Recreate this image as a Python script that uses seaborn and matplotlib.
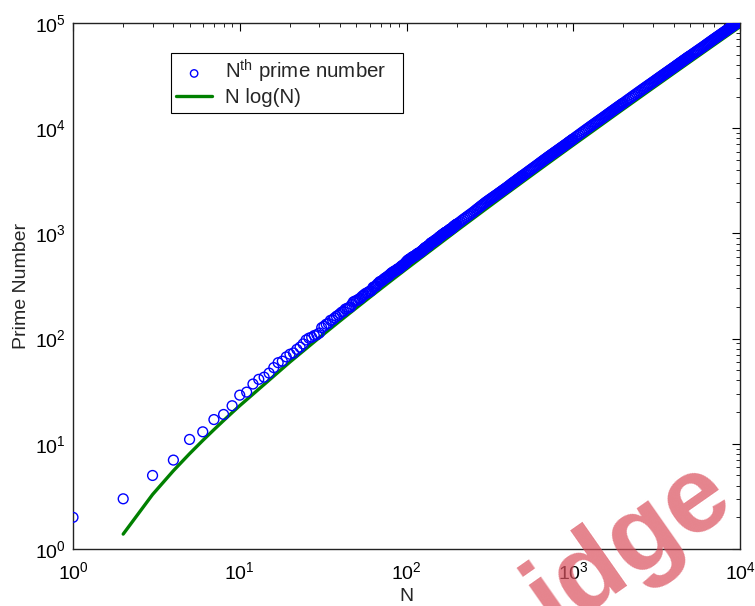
import matplotlib
matplotlib.use("Agg")
import matplotlib.pyplot as plt
import seaborn as sns
import pandas as pd

# ---------------- data ----------------
# N-th prime numbers, N = 1..200 (exact)
prime_n_small = list(range(1, 201))
prime_vals_small = [
    2, 3, 5, 7, 11, 13, 17, 19, 23, 29, 31, 37, 41, 43, 47, 53, 59, 61, 67, 71,
    73, 79, 83, 89, 97, 101, 103, 107, 109, 113, 127, 131, 137, 139, 149, 151, 157, 163, 167, 173,
    179, 181, 191, 193, 197, 199, 211, 223, 227, 229, 233, 239, 241, 251, 257, 263, 269, 271, 277, 281,
    283, 293, 307, 311, 313, 317, 331, 337, 347, 349, 353, 359, 367, 373, 379, 383, 389, 397, 401, 409,
    419, 421, 431, 433, 439, 443, 449, 457, 461, 463, 467, 479, 487, 491, 499, 503, 509, 521, 523, 541,
    547, 557, 563, 569, 571, 577, 587, 593, 599, 601, 607, 613, 617, 619, 631, 641, 643, 647, 653, 659,
    661, 673, 677, 683, 691, 701, 709, 719, 727, 733, 739, 743, 751, 757, 761, 769, 773, 787, 797, 809,
    811, 821, 823, 827, 829, 839, 853, 857, 859, 863, 877, 881, 883, 887, 907, 911, 919, 929, 937, 941,
    947, 953, 967, 971, 977, 983, 991, 997, 1009, 1013, 1019, 1021, 1031, 1033, 1039, 1049, 1051, 1061, 1063, 1069,
    1087, 1091, 1093, 1097, 1103, 1109, 1117, 1123, 1129, 1151, 1153, 1163, 1171, 1181, 1187, 1193, 1201, 1213, 1217, 1223,
]

# N-th prime numbers, N > 200 (estimates)
prime_n_large = (list(range(205, 501, 5)) + list(range(510, 1001, 10))
                 + list(range(1025, 2001, 25)) + list(range(2050, 5001, 50))
                 + list(range(5100, 10001, 100)))
prime_vals_large = [
    # 205 .. 500 (step 5)
    1257, 1291, 1329, 1367, 1403, 1439, 1475, 1511, 1547, 1583,
    1624, 1664, 1705, 1745, 1786, 1826, 1866, 1906, 1947, 1987,
    2024, 2061, 2098, 2135, 2172, 2209, 2246, 2283, 2320, 2357,
    2396, 2434, 2473, 2511, 2550, 2588, 2626, 2664, 2703, 2741,
    2783, 2824, 2866, 2907, 2953, 2999, 3036, 3073, 3115, 3156,
    3198, 3239, 3281, 3322, 3364, 3405, 3447, 3488, 3530, 3571,
    # 510 .. 1000 (step 10)
    3655, 3739, 3823, 3906, 3990, 4074, 4158, 4241, 4325, 4409,
    4496, 4583, 4670, 4757, 4844, 4931, 5018, 5105, 5192, 5279,
    5365, 5450, 5536, 5621, 5707, 5792, 5877, 5962, 6048, 6133,
    6220, 6307, 6394, 6480, 6567, 6654, 6741, 6827, 6914, 7001,
    7093, 7185, 7277, 7368, 7460, 7552, 7644, 7735, 7827, 7919,
    # 1025 .. 2000 (step 25)
    8151, 8382, 8614, 8846, 9078, 9309, 9541, 9773, 10005, 10236,
    10468, 10699, 10931, 11163, 11395, 11626, 11858, 12090, 12322, 12553,
    12795, 13037, 13279, 13520, 13762, 14004, 14246, 14488, 14730, 14971,
    15213, 15455, 15697, 15938, 16180, 16422, 16664, 16905, 17147, 17389,
    # 2050 .. 5000 (step 50)
    17892, 18395, 18898, 19401, 19904, 20407, 20910, 21413, 21916, 22419,
    22922, 23425, 23928, 24431, 24934, 25437, 25940, 26443, 26946, 27449,
    27967, 28485, 29004, 29522, 30040, 30558, 31077, 31595, 32113, 32631,
    33149, 33667, 34186, 34704, 35222, 35740, 36259, 36777, 37295, 37813,
    38353, 38893, 39433, 39973, 40513, 41053, 41593, 42133, 42673, 43212,
    43752, 44292, 44832, 45372, 45912, 46452, 46992, 47532, 48072, 48611,
    # 5100 .. 10000 (step 100)
    49686, 50761, 51836, 52910, 53985, 55060, 56135, 57210, 58285, 59359,
    60489, 61619, 62749, 63878, 65008, 66138, 67268, 68398, 69528, 70657,
    71771, 72885, 74000, 75114, 76228, 77342, 78457, 79571, 80685, 81799,
    82937, 84075, 85213, 86351, 87489, 88627, 89765, 90903, 92041, 93179,
    94334, 95489, 96644, 97799, 98954, 100109, 101264, 102419, 103574, 104729,
]

# N log(N) curve
nlog_n = [2, 3, 4, 5, 6, 7, 8, 9, 10, 20, 30, 40, 50, 60, 70, 80, 90, 100,
          200, 300, 400, 500, 600, 700, 800, 900, 1000,
          2000, 3000, 4000, 5000, 6000, 7000, 8000, 9000, 10000]
nlog_vals = [1.386, 3.296, 5.545, 8.047, 10.751, 13.621, 16.636, 19.775, 23.026,
             59.915, 102.04, 147.56, 195.60, 245.66, 297.39, 350.56, 404.98, 460.52,
             1059.66, 1711.13, 2396.59, 3107.30, 3838.13, 4585.99, 5347.75, 6122.00, 6907.76,
             15201.8, 24019.1, 33176.2, 42586.0, 52197.1, 61975.7, 71897.6, 81944.8, 92103.4]

legend_labels = [r"N$^{\mathrm{th}}$ prime number", "N log(N)"]

# ---------------- style ----------------
sns.set_style("white")
plt.rcParams["font.family"] = ["Liberation Sans", "DejaVu Sans"]
plt.rcParams["mathtext.fontset"] = "custom"
plt.rcParams["mathtext.rm"] = "Liberation Sans"
plt.rcParams["mathtext.it"] = "Liberation Sans:italic"
plt.rcParams["mathtext.bf"] = "Liberation Sans:bold"

primes_df = pd.DataFrame({
    "N": prime_n_small + prime_n_large,
    "P": prime_vals_small + prime_vals_large,
})
nlog_df = pd.DataFrame({"N": nlog_n, "V": nlog_vals})

fig = plt.figure(figsize=(7.55, 6.06), dpi=100)
ax = fig.add_axes([73 / 755, 1 - 549 / 606, 667 / 755, 526 / 606])

sns.scatterplot(data=primes_df, x="N", y="P", ax=ax, marker="o",
                facecolors="none", edgecolor="#0000ff", linewidth=1.0, s=50,
                label=legend_labels[0], zorder=3)
sns.lineplot(data=nlog_df, x="N", y="V", ax=ax, color="#008000",
             linewidth=2.4, label=legend_labels[1], zorder=2, sort=False)

ax.set_xscale("log")
ax.set_yscale("log")
ax.set_xlim(1, 1e4)
ax.set_ylim(1, 1e5)

ax.set_xlabel("N", fontsize=14, labelpad=3)
ax.set_ylabel("Prime Number", fontsize=14, labelpad=4)

ax.tick_params(which="both", direction="in", top=True, right=True,
               colors="black", labelsize=14)
ax.tick_params(which="major", length=6, width=0.8)
ax.tick_params(which="minor", length=3, width=0.6)
ax.tick_params(axis="x", which="major", pad=9)
ax.tick_params(axis="y", which="major", pad=5)
for sp in ax.spines.values():
    sp.set_visible(True)
    sp.set_color("#222222")
    sp.set_linewidth(1.0)

leg_x0 = (171 - 73) / 667
leg_y0 = (549 - 111) / 526
leg_w = (403 - 171) / 667
leg_h = (111 - 53) / 526
leg = ax.legend(loc="upper left", bbox_to_anchor=(leg_x0, leg_y0, leg_w, leg_h),
                mode="expand", borderaxespad=0, fontsize=14.8, frameon=True,
                fancybox=False, edgecolor="black", framealpha=1,
                handlelength=1.75, borderpad=0.25, labelspacing=0.15,
                handletextpad=0.65, markerscale=0.75)
leg.get_frame().set_linewidth(0.8)

# watermark
fig.text(0.833, 0.10, "idge", rotation=35, color=(0.86, 0.33, 0.38), alpha=0.72,
         fontsize=78, fontweight="bold", ha="center", va="center", zorder=10)

fig.savefig("out.png", dpi=100)
